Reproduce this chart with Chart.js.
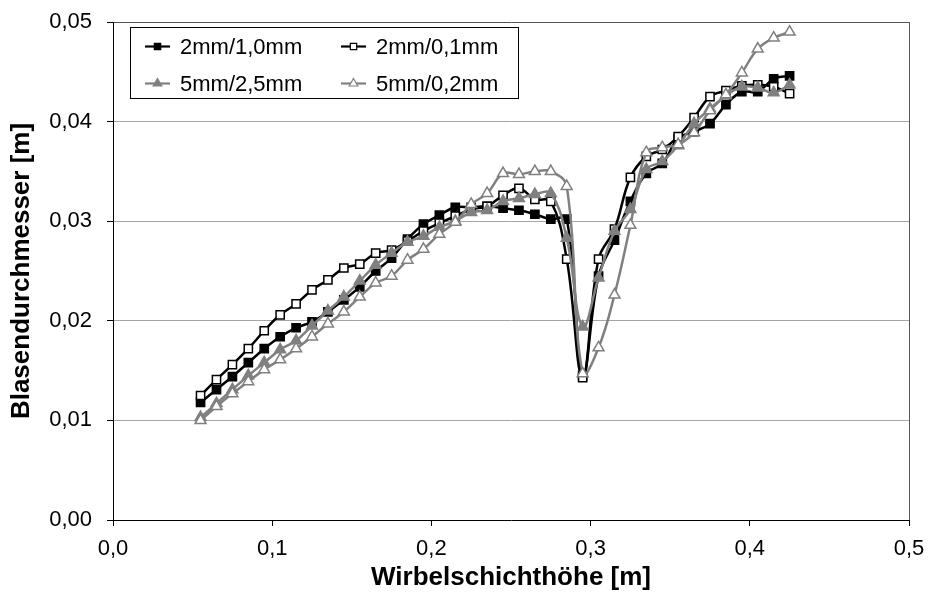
<!DOCTYPE html>
<html>
<head>
<meta charset="utf-8">
<script src="https://cdn.jsdelivr.net/npm/chart.js@4.4.1/dist/chart.umd.min.js"></script>
<style>
    html, body { margin: 0; padding: 0; background: #fff; }
    #wrap { width: 928px; height: 592px; }
</style>
</head>
<body>
<div id="wrap"><canvas id="bubbleChart" width="928" height="592"></canvas></div>
<script>
// Bed height positions [m]
const heights = [0.055, 0.065, 0.075, 0.085, 0.095, 0.105, 0.115, 0.125, 0.135, 0.145,
                 0.155, 0.165, 0.175, 0.185, 0.195, 0.205, 0.215, 0.225, 0.235, 0.245,
                 0.255, 0.265, 0.275, 0.285, 0.295, 0.305, 0.315, 0.325, 0.335, 0.345,
                 0.355, 0.365, 0.375, 0.385, 0.395, 0.405, 0.415, 0.425];

// Bubble diameter [m] per grid setting
const d2mm10 = [0.0118, 0.0131, 0.0144, 0.0158, 0.0172, 0.0184, 0.0193, 0.0199, 0.0209, 0.0221,
                0.0234, 0.0250, 0.0263, 0.0282, 0.0297, 0.0306, 0.0314, 0.0314, 0.0315, 0.0313,
                0.0311, 0.0307, 0.0302, 0.0302, 0.0145, 0.0245, 0.0281, 0.0320, 0.0348, 0.0358,
                0.0383, 0.0390, 0.0398, 0.0417, 0.0430, 0.0430, 0.0443, 0.0446];
const d2mm01 = [0.0125, 0.0141, 0.0156, 0.0172, 0.0190, 0.0206, 0.0217, 0.0231, 0.0241, 0.0253,
                0.0257, 0.0268, 0.0271, 0.0280, 0.0290, 0.0298, 0.0305, 0.0312, 0.0315, 0.0326,
                0.0333, 0.0322, 0.0320, 0.0262, 0.0143, 0.0262, 0.0292, 0.0344, 0.0365, 0.0372,
                0.0385, 0.0404, 0.0425, 0.0431, 0.0436, 0.0437, 0.0435, 0.0428];
const d5mm25 = [0.0103, 0.0117, 0.0131, 0.0145, 0.0158, 0.0171, 0.0180, 0.0195, 0.0210, 0.0224,
                0.0240, 0.0256, 0.0268, 0.0279, 0.0285, 0.0294, 0.0300, 0.0309, 0.0311, 0.0320,
                0.0323, 0.0327, 0.0328, 0.0283, 0.0194, 0.0243, 0.0290, 0.0312, 0.0352, 0.0360,
                0.0376, 0.0398, 0.0413, 0.0426, 0.0435, 0.0434, 0.0429, 0.0437];
const d5mm02 = [0.0100, 0.0114, 0.0127, 0.0139, 0.0151, 0.0161, 0.0172, 0.0184, 0.0197, 0.0209,
                0.0224, 0.0238, 0.0245, 0.0261, 0.0272, 0.0287, 0.0299, 0.0317, 0.0328, 0.0348,
                0.0347, 0.0350, 0.0350, 0.0335, 0.0147, 0.0173, 0.0226, 0.0296, 0.0369, 0.0374,
                0.0377, 0.0389, 0.0411, 0.0427, 0.0449, 0.0473, 0.0484, 0.0490];

const seriesNames = ['2mm/1,0mm', '2mm/0,1mm', '5mm/2,5mm', '5mm/0,2mm'];
const xTicks = [0, 0.1, 0.2, 0.3, 0.4, 0.5];
const yTicks = [0, 0.01, 0.02, 0.03, 0.04, 0.05];

const FONT = '"Liberation Sans", Arial, sans-serif';
const GRAY = '#808080';

function toPoints(values) {
    return heights.map((h, i) => ({ x: h, y: values[i] }));
}

function makeSeries(label, values, color, fill, style, order) {
    return {
        label: label,
        data: toPoints(values),
        borderColor: color,
        backgroundColor: fill,
        borderWidth: 2.5,
        pointStyle: style,
        pointRadius: style === 'rect' ? 5.8 : 6.3,
        pointBorderColor: color,
        pointBackgroundColor: fill,
        pointBorderWidth: 1.5,
        tension: 0.4,
        order: order
    };
}

// Legend box drawn inside the plot, like the original
const legendBox = {
    id: 'legendBox',
    afterDraw(chart) {
        const ctx = chart.ctx;
        ctx.save();
        ctx.fillStyle = '#fff';
        ctx.strokeStyle = '#000';
        ctx.lineWidth = 1;
        ctx.fillRect(130.5, 27.5, 388, 71);
        ctx.strokeRect(130.5, 27.5, 388, 71);

        chart.data.datasets.forEach((ds, i) => {
            const x = 145 + (i % 2) * 196;
            const y = 46.5 + Math.floor(i / 2) * 37;
            ctx.strokeStyle = ds.borderColor;
            ctx.lineWidth = 2.2;
            ctx.beginPath();
            ctx.moveTo(x, y);
            ctx.lineTo(x + 25, y);
            ctx.stroke();

            ctx.fillStyle = ds.pointBackgroundColor;
            ctx.lineWidth = 1.2;
            Chart.helpers.drawPoint(ctx, {
                pointStyle: ds.pointStyle,
                rotation: 0,
                radius: ds.pointStyle === 'rect' ? 4.5 : 5,
                borderWidth: 1.2
            }, x + 12.5, y);

            ctx.fillStyle = '#000';
            ctx.font = '22px ' + FONT;
            ctx.textAlign = 'left';
            ctx.textBaseline = 'middle';
            ctx.fillText(ds.label, x + 35, y + 1);
        });
        ctx.restore();
    }
};

const ctx = document.getElementById('bubbleChart').getContext('2d');
const bubbleChart = new Chart(ctx, {
    type: 'line',
    data: {
        datasets: [
            makeSeries(seriesNames[0], d2mm10, '#000', '#000', 'rect', 3),
            makeSeries(seriesNames[1], d2mm01, '#000', '#fff', 'rect', 2),
            makeSeries(seriesNames[2], d5mm25, GRAY, GRAY, 'triangle', 1),
            makeSeries(seriesNames[3], d5mm02, GRAY, '#fff', 'triangle', 0)
        ]
    },
    options: {
        responsive: false,
        animation: false,
        devicePixelRatio: 1,
        layout: { padding: { top: 22, right: 19, left: 0, bottom: 0 } },
        plugins: {
            legend: { display: false },
            tooltip: { enabled: false }
        },
        scales: {
            x: {
                type: 'linear',
                min: 0,
                max: 0.5,
                afterBuildTicks: (scale) => { scale.ticks = xTicks.map(v => ({ value: v })); },
                afterFit: (scale) => {
                    scale.height = 72;
                    scale.paddingLeft = 0;
                    scale.paddingRight = 0;
                },
                border: { color: '#000', width: 1 },
                grid: {
                    color: (c) => (c.tick && c.tick.value === 0.5) ? '#555' : 'rgba(0,0,0,0)',
                    tickColor: '#000',
                    tickLength: 6,
                    lineWidth: 1
                },
                ticks: {
                    color: '#000',
                    padding: 10,
                    maxRotation: 0,
                    font: { family: FONT, size: 22 },
                    callback: (v) => v.toFixed(1).replace('.', ',')
                },
                title: {
                    display: true,
                    text: 'Wirbelschichthöhe [m]',
                    color: '#000',
                    padding: { top: 0, bottom: 1 },
                    font: { family: FONT, size: 26, weight: 'bold', lineHeight: 1 }
                }
            },
            y: {
                min: 0,
                max: 0.05,
                afterBuildTicks: (scale) => { scale.ticks = yTicks.map(v => ({ value: v })); },
                afterFit: (scale) => {
                    scale.width = 113;
                    scale.paddingTop = 0;
                    scale.paddingBottom = 0;
                },
                border: { color: '#000', width: 1 },
                grid: {
                    color: (c) => {
                        if (!c.tick) return 'rgba(0,0,0,0)';
                        if (c.tick.value === 0) return 'rgba(0,0,0,0)';
                        if (c.tick.value === 0.05) return '#555';
                        return '#a6a6a6';
                    },
                    tickColor: '#000',
                    tickLength: 6,
                    lineWidth: 1
                },
                ticks: {
                    color: '#000',
                    padding: 15,
                    font: { family: FONT, size: 22 },
                    callback: (v) => v.toFixed(2).replace('.', ',')
                },
                title: {
                    display: true,
                    text: 'Blasendurchmesser [m]',
                    color: '#000',
                    padding: { top: 9, bottom: 0 },
                    font: { family: FONT, size: 26, weight: 'bold', lineHeight: 1 }
                }
            }
        }
    },
    plugins: [legendBox]
});
</script>
</body>
</html>
